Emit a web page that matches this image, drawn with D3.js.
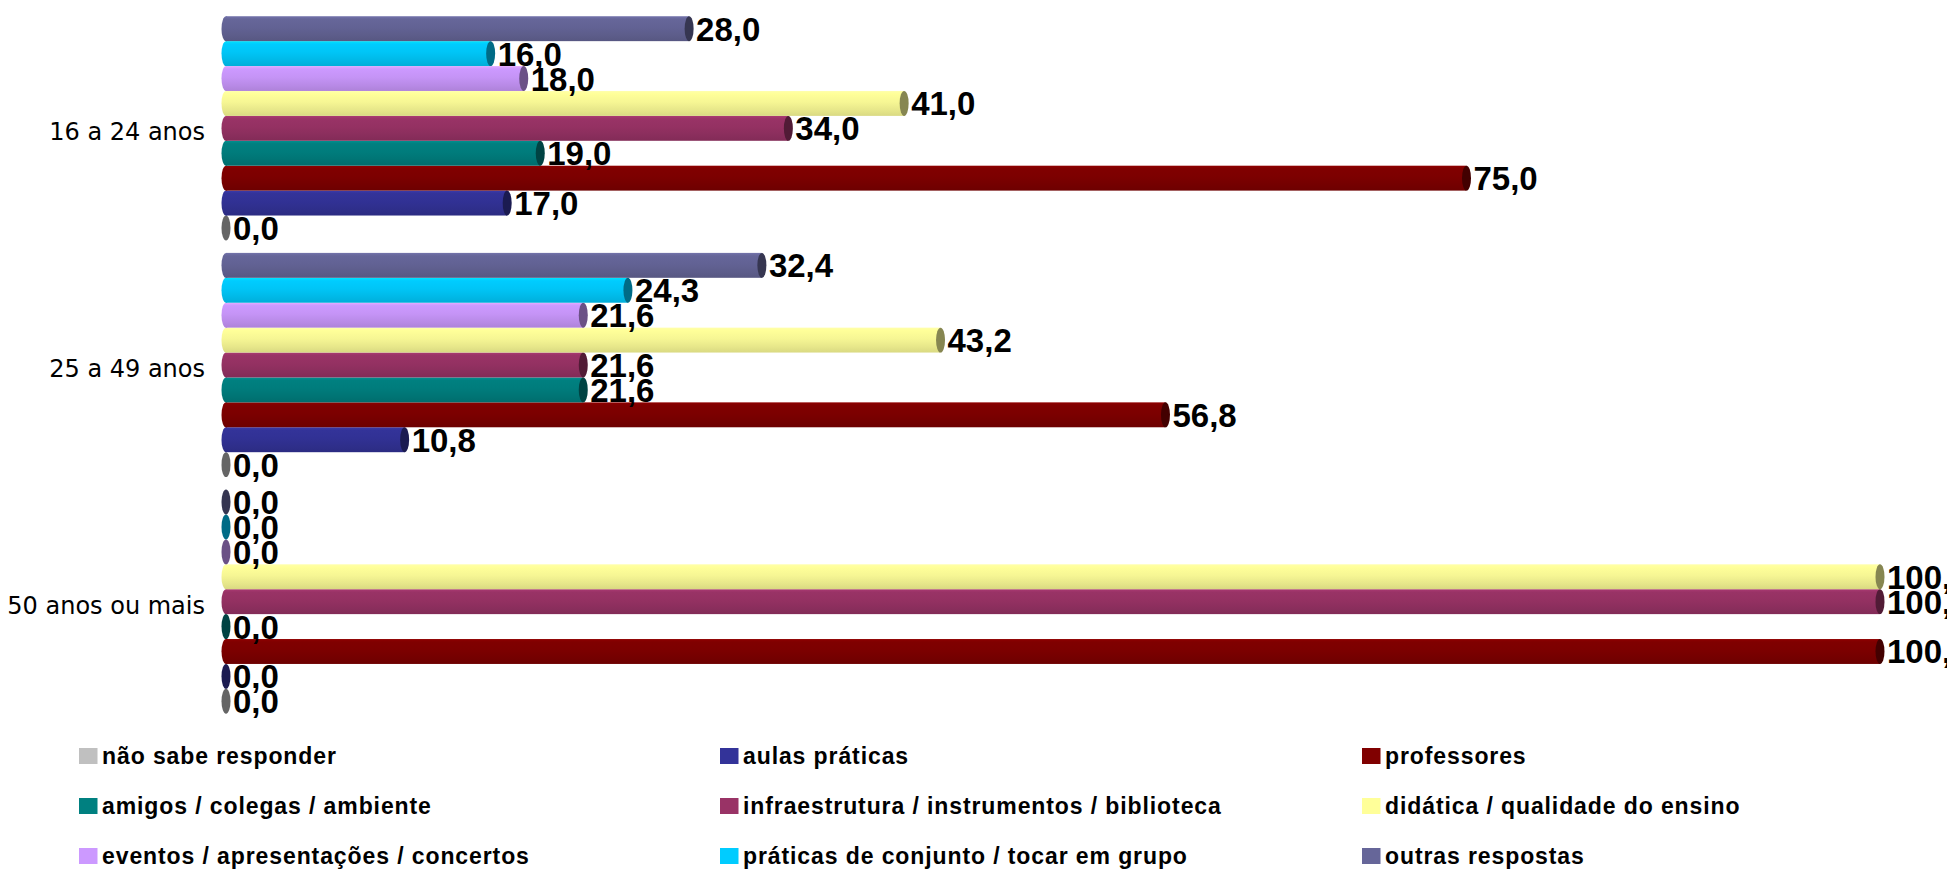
<!DOCTYPE html>
<html>
<head>
<meta charset="utf-8">
<script src="https://cdn.jsdelivr.net/npm/d3@7/dist/d3.min.js"></script>
<style>
  body { margin: 0; background: #fff; }
  svg { display: block; }
</style>
</head>
<body>
<div id="chart"></div>
<script>
// Categories (top to bottom) and series (bottom to top inside each category)
const categories = ["16 a 24 anos", "25 a 49 anos", "50 anos ou mais"];

const seriesNames = [
  "não sabe responder",
  "aulas práticas",
  "professores",
  "amigos / colegas / ambiente",
  "infraestrutura / instrumentos / biblioteca",
  "didática / qualidade do ensino",
  "eventos / apresentações / concertos",
  "práticas de conjunto / tocar em grupo",
  "outras respostas"
];

const seriesColors = ["#C0C0C0", "#333399", "#800000", "#008080", "#993366", "#FFFF99", "#CC99FF", "#00CCFF", "#666699"];

// values per category, same order as categories
const naoSabe       = [0.0, 0.0, 0.0];
const aulasPraticas = [17.0, 10.8, 0.0];
const professores   = [75.0, 56.8, 100.0];
const amigos        = [19.0, 21.6, 0.0];
const infra         = [34.0, 21.6, 100.0];
const didatica      = [41.0, 43.2, 100.0];
const eventos       = [18.0, 21.6, 0.0];
const praticas      = [16.0, 24.3, 0.0];
const outras        = [28.0, 32.4, 0.0];

const seriesValues = [naoSabe, aulasPraticas, professores, amigos, infra, didatica, eventos, praticas, outras];

const series = seriesNames.map((name, i) => ({ name, color: seriesColors[i], values: seriesValues[i], index: i }));

const width = 1947;
const height = 870;

const svg = d3.select("#chart")
  .append("svg")
  .attr("width", width)
  .attr("height", height);

const defs = svg.append("defs");

// cylinder-ish shading for each series
series.forEach(s => {
  const c = d3.color(s.color);
  const grad = defs.append("linearGradient")
    .attr("id", `grad-${s.index}`)
    .attr("x1", 0).attr("y1", 0).attr("x2", 0).attr("y2", 1);
  const stops = [
    [0, c.brighter(0.35)],
    [0.06, c.brighter(0.15)],
    [0.12, c],
    [0.45, c.darker(0.1)],
    [0.8, c.darker(0.3)],
    [1, c.darker(0.45)]
  ];
  stops.forEach(([o, col]) => grad.append("stop").attr("offset", o).attr("stop-color", col.formatHex()));
});

// scales
const xScale = d3.scaleLinear()
  .domain([0, 100])
  .range([226, 1880]);

const yCat = d3.scaleBand()
  .domain(categories)
  .range([10, 720])
  .padding(0);

const ySer = d3.scaleBand()
  .domain(series.map(s => s.index).reverse())
  .range([0, yCat.bandwidth()])
  .paddingInner(0)
  .paddingOuter(0.25);

const bh = ySer.bandwidth();
const capRx = 4.5;
const fmt = v => d3.format(".1f")(v).replace(".", ",");

// category labels
svg.append("g")
  .attr("class", "y-axis")
  .selectAll("text")
  .data(categories)
  .enter()
  .append("text")
  .attr("x", 205)
  .attr("y", d => yCat(d) + yCat.bandwidth() / 2 + 12)
  .attr("text-anchor", "end")
  .attr("font-family", "'DejaVu Sans', Verdana, sans-serif")
  .attr("font-size", 24)
  .attr("fill", "#000")
  .text(d => d);

// bars
const catGroups = svg.append("g")
  .attr("class", "bars")
  .selectAll("g")
  .data(categories)
  .enter()
  .append("g")
  .attr("transform", d => `translate(0, ${yCat(d)})`);

catGroups.each(function(cat, ci) {
  const g = d3.select(this);
  series.forEach(s => {
    const v = s.values[ci];
    const bar = g.append("g")
      .attr("class", "bar")
      .attr("transform", `translate(0, ${ySer(s.index)})`);
    if (v > 0) {
      bar.append("ellipse")
        .attr("cx", xScale(0))
        .attr("cy", bh / 2)
        .attr("rx", capRx)
        .attr("ry", bh / 2)
        .attr("fill", `url(#grad-${s.index})`);
      bar.append("rect")
        .attr("x", xScale(0))
        .attr("y", 0)
        .attr("width", xScale(v) - xScale(0))
        .attr("height", bh)
        .attr("fill", `url(#grad-${s.index})`);
    }
    // end face of the cylinder
    bar.append("ellipse")
      .attr("cx", xScale(v))
      .attr("cy", bh / 2)
      .attr("rx", capRx)
      .attr("ry", bh / 2)
      .attr("fill", d3.color(s.color).darker(1.8).formatHex());
  });
});

// value labels (drawn after all bars so they sit on top)
catGroups.each(function(cat, ci) {
  const g = d3.select(this);
  series.forEach(s => {
    const v = s.values[ci];
    g.append("text")
      .attr("x", xScale(v) + 7)
      .attr("y", ySer(s.index) + bh / 2 + 12)
      .attr("font-family", "'Liberation Sans', Arial, sans-serif")
      .attr("font-weight", "bold")
      .attr("font-size", 33)
      .attr("fill", "#000")
      .text(fmt(v));
  });
});

// legend
const legendCols = [79, 720, 1362];
const legendRows = [756, 806, 856];

const legend = svg.append("g")
  .attr("class", "legend")
  .selectAll("g")
  .data(series)
  .enter()
  .append("g")
  .attr("transform", d => `translate(${legendCols[d.index % 3]}, ${legendRows[Math.floor(d.index / 3)]})`);

legend.append("rect")
  .attr("x", 0)
  .attr("y", -8)
  .attr("width", 18.5)
  .attr("height", 16)
  .attr("fill", d => d.color);

legend.append("text")
  .attr("x", 23)
  .attr("y", 8)
  .attr("font-family", "'Liberation Sans', Arial, sans-serif")
  .attr("font-weight", "bold")
  .attr("font-size", 23)
  .attr("letter-spacing", 0.9)
  .attr("fill", "#000")
  .text(d => d.name);
</script>
</body>
</html>
